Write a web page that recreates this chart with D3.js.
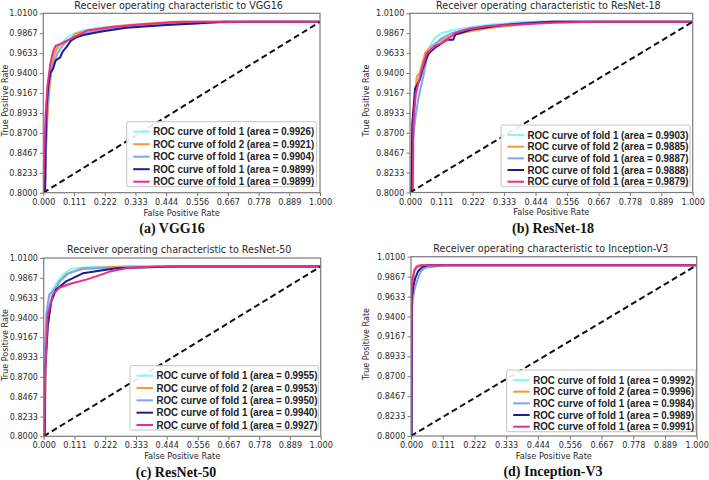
<!DOCTYPE html>
<html>
<head>
<meta charset="utf-8">
<script src="https://cdn.jsdelivr.net/npm/d3@7"></script>
<style>
  html, body { margin: 0; padding: 0; background: #fff; }
  svg { display: block; }
</style>
</head>
<body>
<svg id="chart" width="709" height="480"></svg>
<script>
// ---------------- DATA ----------------
const xTickValues = [0, 0.111, 0.222, 0.333, 0.444, 0.556, 0.667, 0.778, 0.889, 1.0];
const yTickValues = [0.8, 0.8233, 0.8467, 0.87, 0.8933, 0.9167, 0.94, 0.9633, 0.9867, 1.01];
const foldNames = ["fold 1", "fold 2", "fold 1", "fold 1", "fold 1"];
const seriesColors = ["#84f7f7", "#f59a30", "#7fa5ee", "#1d1f86", "#ee2a8c"];
const modelNames = ["VGG16", "ResNet-18", "ResNet-50", "Inception-V3"];
const captionLabels = ["(a) VGG16", "(b) ResNet-18", "(c) ResNet-50", "(d) Inception-V3"];

const areasVGG16 = [0.9926, 0.9921, 0.9904, 0.9899, 0.9899];
const areasResNet18 = [0.9903, 0.9885, 0.9887, 0.9888, 0.9879];
const areasResNet50 = [0.9955, 0.9953, 0.9950, 0.9940, 0.9927];
const areasInceptionV3 = [0.9992, 0.9996, 0.9984, 0.9989, 0.9991];

const diagonal = [[0, 0.8], [1, 1.0]];

// ROC curves [FPR, TPR], order: cyan, orange, light blue, navy, pink
const curvesVGG16 = [
  [[0,0.8],[0.006,0.8],[0.008,0.86],[0.012,0.90],[0.018,0.93],[0.025,0.945],[0.035,0.958],[0.05,0.968],[0.07,0.976],[0.09,0.983],[0.11,0.986],[0.14,0.990],[0.2,0.993],[0.3,0.996],[0.45,0.999],[0.55,1.0],[1,1]],
  [[0,0.8],[0.005,0.8],[0.01,0.85],[0.015,0.89],[0.022,0.92],[0.03,0.945],[0.04,0.962],[0.055,0.972],[0.08,0.977],[0.1,0.980],[0.115,0.986],[0.14,0.988],[0.16,0.990],[0.22,0.993],[0.3,0.996],[0.44,0.9995],[0.46,1.0],[1,1]],
  [[0,0.8],[0.007,0.8],[0.01,0.86],[0.015,0.90],[0.022,0.93],[0.035,0.95],[0.05,0.962],[0.065,0.970],[0.08,0.976],[0.1,0.981],[0.13,0.985],[0.2,0.990],[0.3,0.994],[0.45,0.997],[0.6,0.999],[0.75,1.0],[1,1]],
  [[0,0.8],[0.006,0.8],[0.008,0.85],[0.012,0.90],[0.018,0.925],[0.025,0.94],[0.035,0.945],[0.045,0.955],[0.06,0.958],[0.07,0.965],[0.085,0.971],[0.1,0.978],[0.12,0.982],[0.15,0.985],[0.205,0.9885],[0.3,0.993],[0.446,0.9963],[0.55,0.998],[0.65,1.0],[1,1]],
  [[0,0.8],[0.003,0.84],[0.008,0.89],[0.015,0.925],[0.025,0.95],[0.035,0.965],[0.045,0.972],[0.06,0.974],[0.08,0.977],[0.1,0.980],[0.13,0.985],[0.16,0.990],[0.25,0.994],[0.35,0.997],[0.45,0.999],[0.5,1.0],[1,1]]
];
const curvesResNet18 = [
  [[0,0.8],[0.005,0.8],[0.007,0.86],[0.015,0.90],[0.03,0.935],[0.045,0.955],[0.065,0.969],[0.085,0.980],[0.112,0.987],[0.16,0.991],[0.277,0.9965],[0.4,1.0],[1,1]],
  [[0,0.8],[0.006,0.8],[0.008,0.86],[0.012,0.893],[0.024,0.936],[0.035,0.940],[0.053,0.963],[0.075,0.971],[0.1,0.977],[0.15,0.984],[0.2,0.988],[0.277,0.9925],[0.42,0.998],[0.5,1.0],[1,1]],
  [[0,0.8],[0.007,0.8],[0.01,0.86],[0.02,0.89],[0.03,0.911],[0.047,0.936],[0.059,0.957],[0.08,0.971],[0.112,0.981],[0.15,0.987],[0.218,0.993],[0.3,0.996],[0.45,1.0],[1,1]],
  [[0,0.8],[0.005,0.8],[0.008,0.88],[0.018,0.922],[0.035,0.932],[0.047,0.947],[0.065,0.963],[0.09,0.970],[0.112,0.975],[0.13,0.979],[0.153,0.979],[0.16,0.985],[0.218,0.991],[0.336,0.9965],[0.5,1.0],[1,1]],
  [[0,0.8],[0.01,0.8],[0.012,0.88],[0.02,0.915],[0.041,0.943],[0.059,0.963],[0.09,0.972],[0.124,0.977],[0.16,0.987],[0.2,0.991],[0.277,0.995],[0.51,0.999],[0.65,1.0],[1,1]]
];
const curvesResNet50 = [
  [[0,0.8],[0.003,0.8],[0.005,0.90],[0.01,0.94],[0.02,0.963],[0.035,0.975],[0.055,0.985],[0.075,0.992],[0.099,0.997],[0.15,0.999],[0.25,1.0],[1,1]],
  [[0,0.8],[0.004,0.8],[0.006,0.88],[0.012,0.93],[0.025,0.955],[0.04,0.972],[0.057,0.9825],[0.081,0.991],[0.141,0.998],[0.3,1.0],[1,1]],
  [[0,0.8],[0.002,0.8],[0.004,0.90],[0.01,0.945],[0.02,0.967],[0.039,0.973],[0.06,0.983],[0.09,0.992],[0.14,0.997],[0.3,0.999],[0.6,1.0],[1,1]],
  [[0,0.8],[0.004,0.8],[0.006,0.88],[0.015,0.93],[0.027,0.959],[0.045,0.973],[0.081,0.9825],[0.141,0.992],[0.262,0.998],[0.47,1.0],[1,1]],
  [[0,0.8],[0.002,0.8],[0.005,0.87],[0.014,0.943],[0.033,0.967],[0.057,0.975],[0.093,0.9794],[0.153,0.9845],[0.2135,0.991],[0.238,0.994],[0.298,0.998],[0.4,1.0],[1,1]]
];
const curvesInceptionV3 = [
  [[0,0.8],[0.002,0.8],[0.003,0.97],[0.008,0.985],[0.015,0.993],[0.025,0.998],[0.04,1.0],[1,1]],
  [[0,0.8],[0.002,0.8],[0.003,0.97],[0.006,0.985],[0.012,0.995],[0.02,0.999],[0.03,1.0],[1,1]],
  [[0,0.8],[0.003,0.8],[0.004,0.95],[0.008,0.965],[0.015,0.975],[0.025,0.985],[0.035,0.993],[0.05,0.997],[0.1,0.999],[0.11,1.0],[1,1]],
  [[0,0.8],[0.002,0.8],[0.003,0.96],[0.008,0.975],[0.015,0.985],[0.025,0.993],[0.04,0.998],[0.06,1.0],[1,1]],
  [[0,0.8],[0.001,0.8],[0.002,0.97],[0.006,0.985],[0.012,0.994],[0.02,0.998],[0.035,1.0],[1,1]]
];

const allCurves = [curvesVGG16, curvesResNet18, curvesResNet50, curvesInceptionV3];
const allAreas = [areasVGG16, areasResNet18, areasResNet50, areasInceptionV3];

// ---------------- LAYOUT ----------------
const panels = [
  { left: 43.3, top: 13.3, right: 320.0, bottom: 192.7, titleY: 8.8, ylabX: 7.5, ylabY: 100.5,
    leg: { x: 126.7, y: 121.7, w: 190, h: 65 }, capX: 172, capY: 233 },
  { left: 410.0, top: 13.3, right: 692.7, bottom: 192.5, titleY: 8.8, ylabX: 368.5, ylabY: 100.5,
    leg: { x: 501, y: 125, w: 189, h: 61.7 }, capX: 553, capY: 233 },
  { left: 43.7, top: 258.0, right: 320.7, bottom: 436.3, titleY: 253, ylabX: 7.5, ylabY: 345,
    leg: { x: 130, y: 365.7, w: 188.3, h: 64.3 }, capX: 176, capY: 476.5 },
  { left: 411.0, top: 256.7, right: 696.7, bottom: 436.0, titleY: 251.5, ylabX: 368.5, ylabY: 344,
    leg: { x: 506.7, y: 370, w: 189, h: 61.7 }, capX: 553, capY: 476 }
];

const svg = d3.select("#chart");
const defs = svg.append("defs");
const axisGray = "#7a7a7a";
const textColor = "#2a2a2a";
const fmtX = d3.format(".3f");
const fmtY = d3.format(".4f");

panels.forEach((p, i) => {
  const x = d3.scaleLinear().domain([0, 1]).range([p.left, p.right]);
  const y = d3.scaleLinear().domain([0.8, 1.01]).range([p.bottom, p.top]);
  const g = svg.append("g");

  const clipId = "clip" + i;
  defs.append("clipPath").attr("id", clipId)
    .append("rect").attr("x", p.left).attr("y", p.top)
    .attr("width", p.right - p.left).attr("height", p.bottom - p.top);

  // title
  g.append("text")
    .attr("x", (p.left + p.right) / 2 - 3).attr("y", p.titleY)
    .attr("text-anchor", "middle")
    .attr("font-family", "DejaVu Sans").attr("font-size", 9.6)
    .attr("fill", textColor)
    .text("Receiver operating characteristic to " + modelNames[i]);

  // axes
  const xAxis = d3.axisBottom(x).tickValues(xTickValues).tickFormat(fmtX)
    .tickSize(3.5).tickPadding(2.8);
  const yAxis = d3.axisLeft(y).tickValues(yTickValues).tickFormat(fmtY)
    .tickSize(3.5).tickPadding(2.2);
  const gx = g.append("g").attr("transform", `translate(0,${p.bottom})`).call(xAxis);
  const gy = g.append("g").attr("transform", `translate(${p.left},0)`).call(yAxis);
  [gx, gy].forEach(a => {
    a.select(".domain").remove();
    a.selectAll(".tick line").attr("stroke", axisGray).attr("stroke-width", 1);
    a.selectAll(".tick text").attr("font-family", "DejaVu Sans").attr("font-size", 8.1)
      .attr("fill", textColor);
  });

  // axis labels
  g.append("text")
    .attr("x", (p.left + p.right) / 2).attr("y", p.bottom + 22.8)
    .attr("text-anchor", "middle")
    .attr("font-family", "DejaVu Sans").attr("font-size", 8.2)
    .attr("fill", textColor)
    .text("False Positive Rate");

  g.append("text")
    .attr("transform", `translate(${p.ylabX},${p.ylabY}) rotate(-90)`)
    .attr("text-anchor", "middle")
    .attr("font-family", "DejaVu Sans").attr("font-size", 8.1)
    .attr("fill", textColor)
    .text("True Positive Rate");

  // curves
  const line = d3.line().x(d => x(d[0])).y(d => y(d[1]));
  const plot = g.append("g").attr("clip-path", `url(#${clipId})`);
  allCurves[i].forEach((c, k) => {
    plot.append("path").datum(c)
      .attr("d", line)
      .attr("fill", "none")
      .attr("stroke", seriesColors[k])
      .attr("stroke-width", 2)
      .attr("stroke-linejoin", "round");
  });
  plot.append("path").datum(diagonal)
    .attr("d", line)
    .attr("fill", "none")
    .attr("stroke", "#111")
    .attr("stroke-width", 2)
    .attr("stroke-dasharray", "6,3.5");

  // frame
  g.append("rect")
    .attr("x", p.left).attr("y", p.top)
    .attr("width", p.right - p.left).attr("height", p.bottom - p.top)
    .attr("fill", "none").attr("stroke", axisGray).attr("stroke-width", 1.2);

  // legend
  const L = p.leg;
  const lg = g.append("g");
  lg.append("rect")
    .attr("x", L.x).attr("y", L.y).attr("width", L.w).attr("height", L.h)
    .attr("rx", 1.5)
    .attr("fill", "#fff").attr("fill-opacity", 0.9)
    .attr("stroke", "#c4c4c4").attr("stroke-width", 1);
  const rowStep = (L.h - 15) / 4;
  allAreas[i].forEach((a, k) => {
    const ry = L.y + 10 + k * rowStep;
    lg.append("line")
      .attr("x1", L.x + 6.5).attr("x2", L.x + 23)
      .attr("y1", ry).attr("y2", ry)
      .attr("stroke", seriesColors[k]).attr("stroke-width", 2);
    lg.append("text")
      .attr("x", L.x + 26.5).attr("y", ry + 3.6)
      .attr("font-family", "Liberation Sans").attr("font-weight", "bold")
      .attr("font-size", 10)
      .attr("textLength", 161).attr("lengthAdjust", "spacingAndGlyphs")
      .attr("fill", "#222")
      .text(`ROC curve of ${foldNames[k]} (area = ${d3.format(".4f")(a)})`);
  });

  // caption
  g.append("text")
    .attr("x", p.capX).attr("y", p.capY)
    .attr("text-anchor", "middle")
    .attr("font-family", "Liberation Serif").attr("font-weight", "bold")
    .attr("font-size", 14)
    .attr("fill", "#111")
    .text(captionLabels[i]);
});
</script>
</body>
</html>
